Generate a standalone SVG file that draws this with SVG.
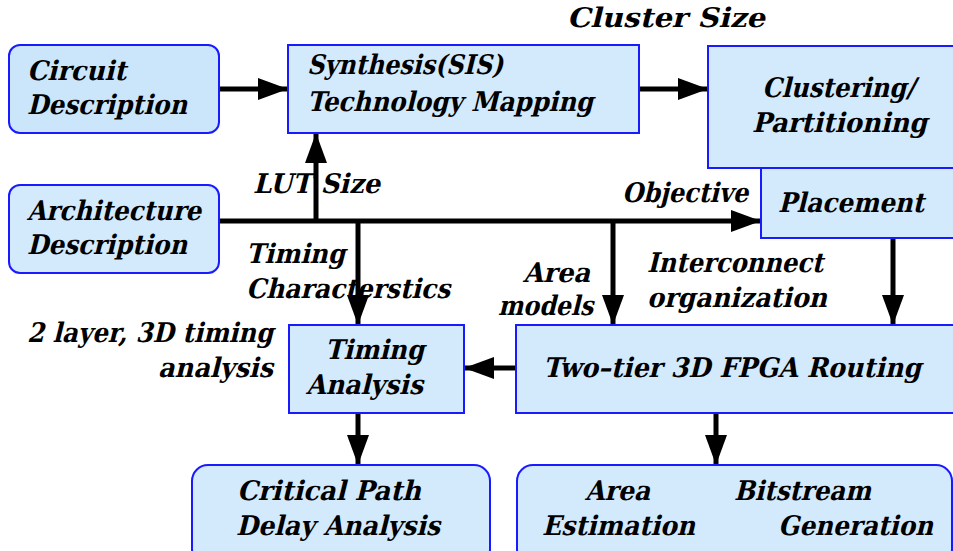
<svg xmlns="http://www.w3.org/2000/svg" width="953" height="551" viewBox="0 0 953 551">
<style>
.box{fill:#d3e9fc;stroke:#1a1aff;stroke-width:2}
.t{font-family:'DejaVu Serif','Liberation Serif',serif;font-weight:700;font-style:normal;font-size:27px;fill:#000}
.c{fill:none;stroke:#000;stroke-width:5}
</style>
<defs>
<marker id="ah" markerUnits="userSpaceOnUse" markerWidth="30" markerHeight="22" refX="29" refY="11" orient="auto">
<path d="M0,0 L30,11 L0,22 z" fill="#000"/>
</marker>
</defs>
<rect width="953" height="551" fill="#fff"/>
<g id="connectors">
<path class="c" d="M219,89 H287" marker-end="url(#ah)"/>
<path class="c" d="M639,89 H707" marker-end="url(#ah)"/>
<path class="c" d="M219,221 H760" marker-end="url(#ah)"/>
<path class="c" d="M316,221 V134" marker-end="url(#ah)"/>
<path class="c" d="M358,221 V324" marker-end="url(#ah)"/>
<path class="c" d="M613,221 V324" marker-end="url(#ah)"/>
<path class="c" d="M893,238 V324" marker-end="url(#ah)"/>
<path class="c" d="M516,368 H465" marker-end="url(#ah)"/>
<path class="c" d="M358,413 V464" marker-end="url(#ah)"/>
<path class="c" d="M716,413 V464" marker-end="url(#ah)"/>
</g>
<g id="circuit">
<rect class="box" x="9" y="45" width="210" height="88" rx="11" style="fill:#cbe6fb"/>
<text class="t" transform="translate(27,80) skewX(-14)" textLength="99" lengthAdjust="spacingAndGlyphs">Circuit</text>
<text class="t" transform="translate(27,114) skewX(-14)" textLength="160" lengthAdjust="spacingAndGlyphs">Description</text>
</g>
<g id="architecture">
<rect class="box" x="9" y="185" width="210" height="88" rx="11"/>
<text class="t" transform="translate(27,220) skewX(-14)" textLength="174" lengthAdjust="spacingAndGlyphs">Architecture</text>
<text class="t" transform="translate(27,254) skewX(-14)" textLength="160" lengthAdjust="spacingAndGlyphs">Description</text>
</g>
<g id="synthesis">
<rect class="box" x="288" y="45" width="351" height="88"/>
<text class="t" transform="translate(307,74) skewX(-14)" textLength="196" lengthAdjust="spacingAndGlyphs">Synthesis(SIS)</text>
<text class="t" transform="translate(307,111) skewX(-14)" textLength="286" lengthAdjust="spacingAndGlyphs">Technology Mapping</text>
</g>
<g id="clustering">
<rect class="box" x="708" y="46" width="260" height="122"/>
<text class="t" transform="translate(762,97) skewX(-14)" textLength="153" lengthAdjust="spacingAndGlyphs">Clustering/</text>
<text class="t" transform="translate(752,132) skewX(-14)" textLength="175" lengthAdjust="spacingAndGlyphs">Partitioning</text>
</g>
<g id="placement">
<rect class="box" x="761" y="168" width="200" height="70"/>
<text class="t" transform="translate(778,212) skewX(-14)" textLength="146" lengthAdjust="spacingAndGlyphs">Placement</text>
</g>
<g id="timing">
<rect class="box" x="289" y="325" width="175" height="88"/>
<text class="t" transform="translate(325,359) skewX(-14)" textLength="99" lengthAdjust="spacingAndGlyphs">Timing</text>
<text class="t" transform="translate(306,394) skewX(-14)" textLength="117" lengthAdjust="spacingAndGlyphs">Analysis</text>
</g>
<g id="routing">
<rect class="box" x="516" y="325" width="445" height="88"/>
<text class="t" transform="translate(543,377) skewX(-14)" textLength="378" lengthAdjust="spacingAndGlyphs">Two–tier 3D FPGA Routing</text>
</g>
<g id="critical">
<rect class="box" x="192" y="465" width="298" height="100" rx="16"/>
<text class="t" transform="translate(237,500) skewX(-14)" textLength="184" lengthAdjust="spacingAndGlyphs">Critical Path</text>
<text class="t" transform="translate(236,535) skewX(-14)" textLength="204" lengthAdjust="spacingAndGlyphs">Delay Analysis</text>
</g>
<g id="areabit">
<rect class="box" x="517" y="465" width="435" height="100" rx="16"/>
<text class="t" transform="translate(585,500) skewX(-14)" textLength="65" lengthAdjust="spacingAndGlyphs">Area</text>
<text class="t" transform="translate(542,535) skewX(-14)" textLength="153" lengthAdjust="spacingAndGlyphs">Estimation</text>
<text class="t" transform="translate(734,500) skewX(-14)" textLength="137" lengthAdjust="spacingAndGlyphs">Bitstream</text>
<text class="t" transform="translate(778,535) skewX(-14)" textLength="155" lengthAdjust="spacingAndGlyphs">Generation</text>
</g>
<g id="labels">
<text class="t" transform="translate(567,27) skewX(-14)" textLength="198" lengthAdjust="spacingAndGlyphs">Cluster Size</text>
<text class="t" transform="translate(622,202) skewX(-14)" textLength="126" lengthAdjust="spacingAndGlyphs">Objective</text>
<text class="t" transform="translate(253,193) skewX(-14)" textLength="127" lengthAdjust="spacingAndGlyphs">LUT Size</text>
<text class="t" transform="translate(246,263) skewX(-14)" textLength="99" lengthAdjust="spacingAndGlyphs">Timing</text>
<text class="t" transform="translate(246,298) skewX(-14)" textLength="204" lengthAdjust="spacingAndGlyphs">Characterstics</text>
<text class="t" transform="translate(27,342) skewX(-14)" textLength="246" lengthAdjust="spacingAndGlyphs">2 layer, 3D timing</text>
<text class="t" transform="translate(158,377) skewX(-14)" textLength="115" lengthAdjust="spacingAndGlyphs">analysis</text>
<text class="t" transform="translate(523,282) skewX(-14)" textLength="67" lengthAdjust="spacingAndGlyphs">Area</text>
<text class="t" transform="translate(498,315) skewX(-14)" textLength="95" lengthAdjust="spacingAndGlyphs">models</text>
<text class="t" transform="translate(647,272) skewX(-14)" textLength="176" lengthAdjust="spacingAndGlyphs">Interconnect</text>
<text class="t" transform="translate(647,307) skewX(-14)" textLength="180" lengthAdjust="spacingAndGlyphs">organization</text>
</g>
</svg>
